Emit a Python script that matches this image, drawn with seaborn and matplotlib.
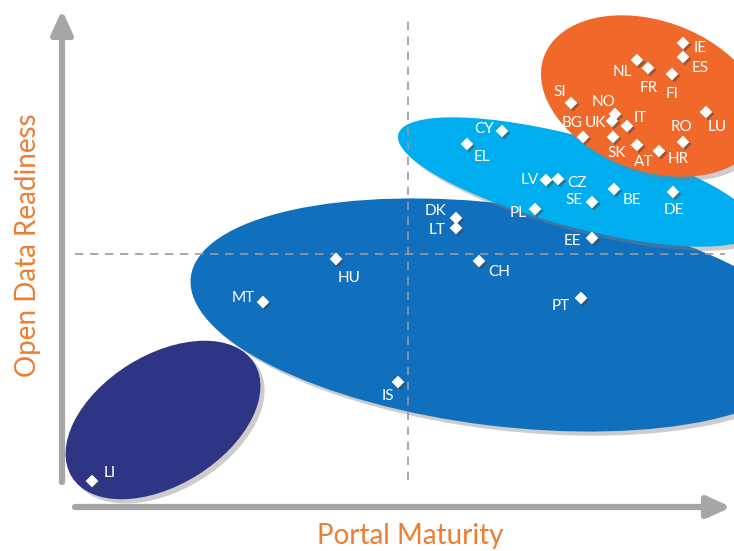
import matplotlib.pyplot as plt
import matplotlib.patheffects as pe
from matplotlib.patches import Ellipse
import seaborn as sns
import pandas as pd

# country scores (portal maturity, open data readiness)
countries = ['IE', 'ES', 'NL', 'FR', 'FI', 'SI', 'NO', 'UK', 'IT', 'BG', 'SK',
             'AT', 'HR', 'RO', 'LU', 'CY', 'EL', 'LV', 'CZ', 'BE', 'SE', 'DE',
             'PL', 'DK', 'LT', 'EE', 'HU', 'CH', 'MT', 'PT', 'IS', 'LI']
maturity = [683, 683, 637, 648, 672, 571, 615, 612, 627, 583, 613,
            637, 659, 683, 706, 502, 467, 546, 558, 614, 592, 673,
            535, 456, 456, 592, 336, 479, 263, 581, 398, 92]
readiness = [508, 494, 491, 483, 477, 448, 437, 430, 425, 414, 414,
             406, 400, 409, 439, 420, 407, 371, 372, 362, 349, 359,
             342, 333, 323, 313, 292, 290, 249, 253, 169, 70]

# cluster ellipses: centre, width, height, tilt
cluster_x = [163, 501, 577, 652]
cluster_y = [131, 236, 369, 455]
cluster_w = [215, 625, 370, 230]
cluster_h = [130, 222, 90, 150]
cluster_angle = [32, -7, -15, -20]
cluster_colors = ['#2E3585', '#1070BE', '#00AEEF', '#F0692B']

# where each label sits relative to its marker
label_offsets = {
    'IE': (17, -5), 'ES': (17, -11), 'NL': (-15, -12), 'FR': (1, -20),
    'FI': (0, -20), 'SI': (-11, 11), 'NO': (-11, 12), 'UK': (-17, -2),
    'IT': (13, 8), 'BG': (-11, 14), 'SK': (4, -16), 'AT': (7, -17),
    'HR': (19, -8), 'RO': (-1, 15), 'LU': (11, -15), 'CY': (-18, 2),
    'EL': (15, -13), 'LV': (-16, 0), 'CZ': (19, -4), 'BE': (18, -11),
    'SE': (-18, 2), 'DE': (1, -18), 'PL': (-17, -4), 'DK': (-20, 7),
    'LT': (-19, -2), 'EE': (-20, -3), 'HU': (13, -19), 'CH': (20, -11),
    'MT': (-20, 4), 'PT': (-20, -8), 'IS': (-10, -14), 'LI': (18, 8),
}

df = pd.DataFrame({'country': countries, 'maturity': maturity,
                   'readiness': readiness})

sns.set_style('white')
plt.rcParams['font.family'] = ['Lato', 'DejaVu Sans']

fig = plt.figure(figsize=(7.34, 5.51), dpi=100)
ax = fig.add_axes([0, 0, 1, 1])
ax.set_xlim(0, 734)
ax.set_ylim(0, 551)
ax.axis('off')

shadow = [pe.SimplePatchShadow(offset=(3, -3), shadow_rgbFace='#808080', alpha=0.4),
          pe.Normal()]

for cx, cy, w, h, a, c in zip(cluster_x, cluster_y, cluster_w, cluster_h,
                              cluster_angle, cluster_colors):
    e = Ellipse((cx, cy), w, h, angle=a, facecolor=c, edgecolor='none', zorder=2)
    e.set_path_effects(shadow)
    ax.add_patch(e)

# quadrant split lines
ax.plot([408, 408], [71, 536], ls=(0, (5, 4)), color='#9a9a9a', lw=1.2, zorder=3)
ax.plot([75, 725], [297, 297], ls=(0, (5, 4)), color='#9a9a9a', lw=1.2, zorder=3)

# axis arrows
arrow_kw = dict(arrowstyle='-|>,head_length=0.7,head_width=0.32', lw=4.5,
                color='#a6a6a6', mutation_scale=20, shrinkA=0, shrinkB=0)
for start, end in [((62, 69), (62, 541)), ((75, 44), (731, 44))]:
    an = ax.annotate('', xy=end, xytext=start, arrowprops=arrow_kw, zorder=1)
    an.arrow_patch.set_path_effects(
        [pe.SimplePatchShadow(offset=(2, -2), shadow_rgbFace='#bbbbbb', alpha=0.5),
         pe.Normal()])

sns.scatterplot(data=df, x='maturity', y='readiness', marker='D', color='white',
                s=42, edgecolor='none', ax=ax, zorder=5, legend=False)
ax.collections[-1].set_path_effects(
    [pe.SimplePatchShadow(offset=(1.5, -1.5), shadow_rgbFace='#444444', alpha=0.5),
     pe.Normal()])

for name, x, y in zip(countries, maturity, readiness):
    dx, dy = label_offsets[name]
    ax.text(x + dx, y + dy, name, color='white', fontsize=11,
            ha='center', va='center', zorder=6)

ax.text(410, 15, 'Portal Maturity', color='#ED7D31', fontsize=20,
        ha='center', va='center')
ax.text(28, 306, 'Open Data Readiness', color='#ED7D31', fontsize=20,
        ha='center', va='center', rotation=90)

fig.savefig('out.png', dpi=100)
